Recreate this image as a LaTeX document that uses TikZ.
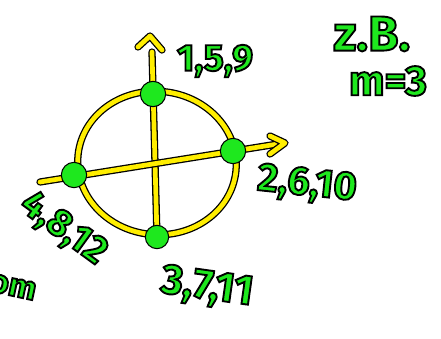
\documentclass[tikz,border=0pt]{standalone}
\usepackage{fontspec}
\setsansfont{Fira Sans}
\usepackage{tikz}
\usetikzlibrary{calc, positioning}
\usepackage{xcolor}
\definecolor{penGreen}{RGB}{30, 232, 30}
\definecolor{penYellow}{RGB}{255, 238, 0}
% green marker text with a thin black rim
\newcommand{\rimtext}[1]{\special{pdf:literal direct 0 0 0 RG 1.6 w 2 Tr}#1\special{pdf:literal direct 0 Tr}}

\begin{document}
\begin{tikzpicture}[x=0.03cm, y=-0.03cm, font=\sffamily\bfseries,
    pen/.style={draw=black, double=penYellow, double distance=4pt, line width=1.1pt, line cap=round, line join=round},
    dot/.style={circle, fill=penGreen, draw=black, line width=0.9pt, minimum size=0.76cm, inner sep=0pt},
    lbl/.style={text=penGreen, inner sep=0pt}]
  \useasboundingbox (0, 0) rectangle (441, 339);
  % circle and axes
  \draw[pen, rotate around={-6:(157, 163)}] (157, 163) ellipse [x radius=2.38cm, y radius=2.15cm];
  \coordinate (vbot) at (157, 237);
  \coordinate (vtop) at (152, 52);
  \coordinate (hleft) at (40, 182);
  \coordinate (hright) at (284, 143);
  \draw[pen] (vbot) -- (vtop);
  \draw[pen] (hleft) -- (hright);
  % arrow tips
  \draw[pen] (138, 47) -- (150, 36) -- (162, 50);
  \draw[pen] (270, 136) -- (285, 143) -- (270, 154);
  % points on the circle
  \node[dot] (top) at (153, 94) {};
  \node[dot] (right) at (233, 151) {};
  \node[dot] (left) at (74, 175) {};
  \node[dot, minimum size=0.7cm] (bottom) at (157, 237) {};
  % labels
  \node[lbl, font=\sffamily\bfseries\fontsize{32}{34}\selectfont] (l159) at (215, 61) {\rimtext{1,5,9}};
  \node[lbl, rotate=-6, font=\sffamily\bfseries\fontsize{34}{36}\selectfont] (l2610) at (307, 185) {\rimtext{2,6,10}};
  \node[lbl, rotate=-8, font=\sffamily\bfseries\fontsize{36}{38}\selectfont] (l3711) at (207, 288) {\rimtext{3,7,11}};
  \node[lbl, rotate=-36, font=\sffamily\bfseries\fontsize{33}{35}\selectfont] (l4812) at (63, 229) {\rimtext{4,8,12}};
  \node[lbl, font=\sffamily\bfseries\fontsize{42}{44}\selectfont] (zb) at (372, 34) {\rimtext{z.B.}};
  \node[lbl, font=\sffamily\bfseries\fontsize{36}{38}\selectfont] (m3) at (388, 81) {\rimtext{m=3}};
  \node[lbl, rotate=-12, anchor=east, font=\sffamily\bfseries\fontsize{28}{30}\selectfont] (om) at (36, 292) {\rimtext{om}};
\end{tikzpicture}
\end{document}
